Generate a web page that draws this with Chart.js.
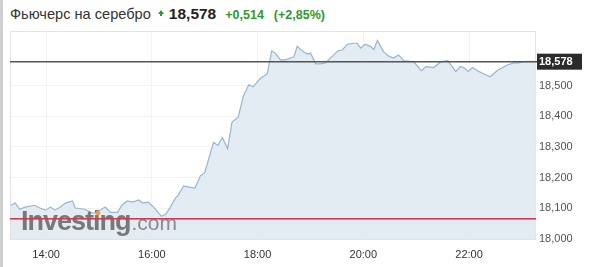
<!DOCTYPE html>
<html>
<head>
<meta charset="utf-8">
<script src="https://cdn.jsdelivr.net/npm/chart.js@4.4.1/dist/chart.umd.min.js"></script>
<style>
  html, body { margin: 0; padding: 0; background: #fff; }
  #wrap { position: relative; width: 590px; height: 267px; overflow: hidden; }
  #edge { position: absolute; left: 0; top: 0; width: 3px; height: 267px; background: #cfcfcf; }
  #head { position: absolute; left: 10px; top: 5px; font-family: Arial, "Liberation Sans", sans-serif; white-space: nowrap; }
  #head .name { font-size: 14.6px; color: #333; }
  #head .arrow { display: inline-block; position: relative; top: -5px; margin-left: 7px; width: 0; height: 0;
                 border-left: 3px solid transparent; border-right: 3px solid transparent; border-bottom: 4px solid #2b9b2b; }
  #head .arrow:after { content: ''; position: absolute; left: -1px; top: 4px; width: 2px; height: 2px; background: #2b9b2b; }
  #head .last { font-size: 15.5px; font-weight: bold; color: #222; margin-left: 5px; }
  #head .chg { font-size: 12.5px; font-weight: bold; color: #2b9b2b; margin-left: 9px; }
  canvas { position: absolute; left: 0; top: 0; }
</style>
</head>
<body>
<div id="wrap">
  <div id="edge"></div>
  <div id="head">
    <span class="name">Фьючерс на серебро</span><span class="arrow"></span><span class="last">18,578</span><span class="chg">+0,514</span><span class="chg" style="margin-left:10px">(+2,85%)</span>
  </div>
  <canvas id="chart" width="590" height="267"></canvas>
</div>
<script>
const times = ['13:20','13:25','13:30','13:36','13:47','13:53','13:59','14:05','14:10','14:16','14:22','14:30','14:33','14:44','14:50','14:56',
  '15:01','15:07','15:13','15:21','15:26','15:32','15:38','15:45','15:50','15:56','16:02','16:07','16:11','16:16','16:21','16:27','16:30','16:36','16:41','16:49','16:55',
  '17:00','17:10','17:15','17:20','17:26','17:31','17:38','17:44','17:50','17:55','18:03','18:11','18:16','18:20','18:26','18:32','18:37','18:41','18:45','18:52','18:57',
  '19:00','19:06','19:11','19:17','19:25','19:31','19:36','19:42','19:49','19:53','19:57','20:02','20:08','20:12','20:16','20:23','20:29','20:34','20:40','20:46','20:57',
  '21:06','21:11','21:20','21:28','21:36','21:45','21:50','21:54','21:59','22:04','22:11','22:24','22:32','22:44','22:51','22:56','23:02','23:09','23:16'];

const prices = [18.110,18.117,18.097,18.104,18.110,18.101,18.094,18.104,18.094,18.104,18.117,18.124,18.101,18.097,18.087,18.084,
  18.094,18.104,18.087,18.087,18.110,18.124,18.120,18.127,18.117,18.120,18.104,18.087,18.074,18.081,18.104,18.134,18.143,18.173,18.170,18.166,18.206,
  18.216,18.315,18.305,18.331,18.295,18.381,18.397,18.467,18.503,18.496,18.523,18.539,18.613,18.606,18.584,18.584,18.590,18.593,18.628,18.610,18.603,
  18.606,18.571,18.571,18.574,18.596,18.613,18.616,18.635,18.638,18.638,18.622,18.635,18.628,18.618,18.647,18.610,18.596,18.590,18.600,18.581,18.578,
  18.549,18.562,18.559,18.578,18.581,18.546,18.562,18.559,18.546,18.559,18.546,18.529,18.549,18.568,18.574,18.574,18.578,18.579,18.578];

const yTicks = [18.0, 18.1, 18.2, 18.3, 18.4, 18.5];
const xTicks = ['14:00','16:00','18:00','20:00','22:00'];
const lastPrice = 18.578;
const prevClose = 18.064;

const toHours = s => { const p = s.split(':'); return +p[0] + p[1] / 60; };
const fmt = v => v.toFixed(3).replace('.', ',');

const overlay = {
  id: 'overlay',
  beforeDatasetsDraw(chart) {
    const { ctx, chartArea: a } = chart;
    ctx.save();
    ctx.strokeStyle = '#e3e3e3';
    ctx.lineWidth = 1;
    ctx.strokeRect(a.left + 0.5, a.top + 0.5, a.right - a.left - 1, a.bottom - a.top);
    ctx.restore();
  },
  afterDatasetsDraw(chart) {
    const { ctx, chartArea: a, scales: { y } } = chart;
    ctx.save();
    // watermark
    ctx.fillStyle = '#787878';
    ctx.font = 'bold 27px Arial, "Liberation Sans"';
    ctx.textBaseline = 'alphabetic';
    if (ctx.letterSpacing !== undefined) ctx.letterSpacing = '-1px';
    ctx.fillText('Investing', 21, 230);
    const w = ctx.measureText('Investing').width;
    if (ctx.letterSpacing !== undefined) ctx.letterSpacing = '0px';
    ctx.fillStyle = '#8a8a8a';
    ctx.font = '21px Arial, "Liberation Sans"';
    ctx.fillText('.com', 21 + w + 1, 230);
    ctx.fillStyle = '#f0a030';
    ctx.beginPath();
    ctx.arc(98, 213, 2.3, 0, Math.PI * 2);
    ctx.fill();

    // previous close
    const yp = y.getPixelForValue(prevClose);
    ctx.fillStyle = '#d03a58';
    ctx.fillRect(a.left, Math.round(yp) - 1, a.right - a.left, 1.6);

    // last price line + label
    const yl = y.getPixelForValue(lastPrice);
    ctx.strokeStyle = '#555';
    ctx.lineWidth = 1.6;
    ctx.beginPath();
    ctx.moveTo(a.left, yl);
    ctx.lineTo(a.right + 2, yl);
    ctx.stroke();
    ctx.fillStyle = '#2b2b2b';
    ctx.fillRect(a.right + 1, yl - 8, 45, 16);
    ctx.fillStyle = '#fff';
    ctx.font = 'bold 11px Arial, "Liberation Sans"';
    ctx.textBaseline = 'middle';
    ctx.fillText(fmt(lastPrice), a.right + 3, yl + 0.5);
    ctx.restore();
  }
};

new Chart(document.getElementById('chart'), {
  type: 'line',
  data: {
    datasets: [{
      data: times.map((t, i) => ({ x: toHours(t), y: prices[i] })),
      borderColor: '#9ab5d0',
      borderWidth: 1.2,
      backgroundColor: 'rgba(222,232,241,0.85)',
      fill: 'start',
      pointRadius: 0,
      tension: 0
    }]
  },
  options: {
    responsive: false,
    animation: false,
    events: [],
    layout: { padding: { left: 10, top: 31, right: 0, bottom: 0 } },
    plugins: { legend: { display: false }, tooltip: { enabled: false } },
    scales: {
      x: {
        type: 'linear',
        min: toHours('13:19'),
        max: toHours('23:16'),
        afterBuildTicks: s => { s.ticks = xTicks.map(t => ({ value: toHours(t) })); },
        afterFit: s => { s.height = 28; },
        grid: { color: '#f3f3f3', drawTicks: false },
        border: { display: false },
        ticks: {
          padding: 9,
          color: '#333',
          font: { family: 'Arial, "Liberation Sans"', size: 11 },
          maxRotation: 0,
          callback: v => { const h = Math.floor(v); return h + ':00'; }
        }
      },
      y: {
        position: 'right',
        min: 18.0,
        max: 18.678,
        afterBuildTicks: s => { s.ticks = yTicks.map(v => ({ value: v })); },
        afterFit: s => { s.width = 54; },
        grid: { color: '#f3f3f3', drawTicks: false },
        border: { display: false },
        ticks: {
          padding: 3,
          color: '#555',
          font: { family: 'Arial, "Liberation Sans"', size: 11 },
          callback: v => fmt(v)
        }
      }
    }
  },
  plugins: [overlay]
});
</script>
</body>
</html>
